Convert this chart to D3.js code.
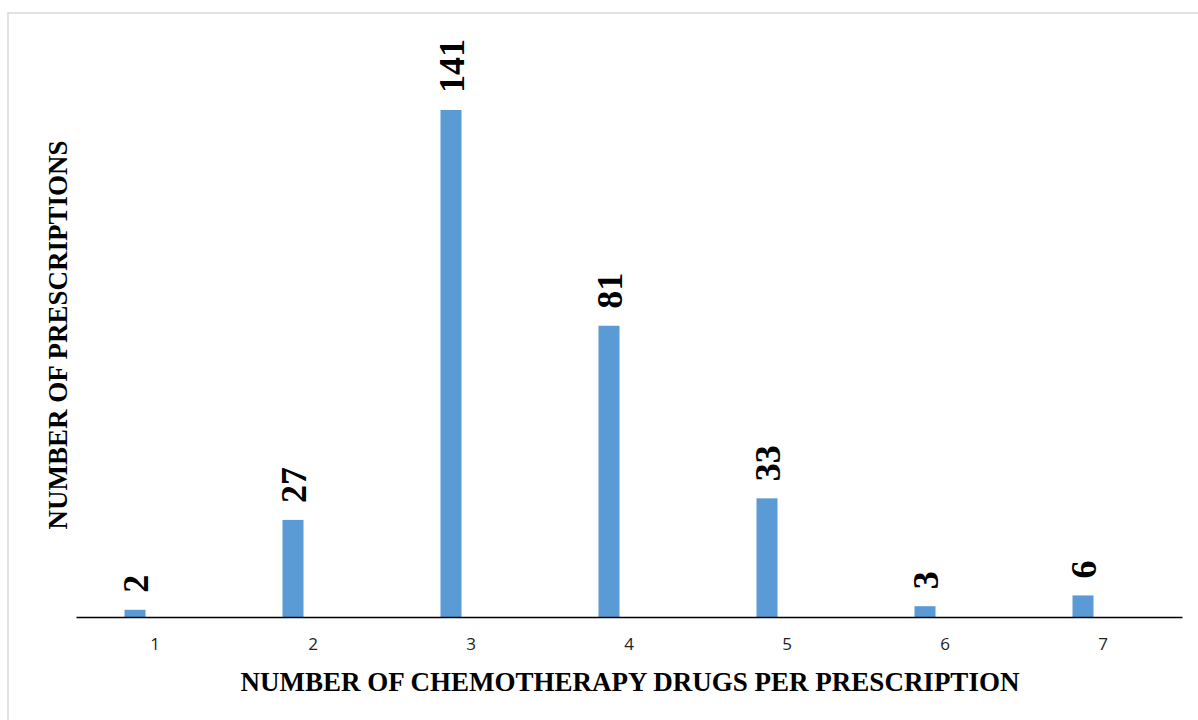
<!DOCTYPE html>
<html>
<head>
<meta charset="utf-8">
<script src="https://cdn.jsdelivr.net/npm/d3@7"></script>
<style>
  body { margin: 0; background: #fff; }
</style>
</head>
<body>
<div id="chart"></div>
<script>
const categories = ["1", "2", "3", "4", "5", "6", "7"];
const prescriptions = [2, 27, 141, 81, 33, 3, 6];
const xTitle = "NUMBER OF CHEMOTHERAPY DRUGS PER PRESCRIPTION";
const yTitle = "NUMBER OF PRESCRIPTIONS";

const width = 1198, height = 720;
const plot = { left: 76, right: 1182, top: 110, bottom: 617 };

const svg = d3.select("#chart")
    .append("svg")
    .attr("width", width)
    .attr("height", height);

// chart frame
svg.append("rect")
    .attr("x", 8).attr("y", 13)
    .attr("width", 1200).attr("height", 720)
    .attr("fill", "none")
    .attr("stroke", "#d9d9d9")
    .attr("stroke-width", 1.5);

const data = categories.map((c, i) => ({ cat: c, value: prescriptions[i] }));

const x = d3.scaleBand()
    .domain(categories)
    .range([plot.left, plot.right]);

const y = d3.scaleLinear()
    .domain([0, 141])
    .range([plot.bottom, plot.top]);

const barW = 21;
const barShift = -20; // bars sit left of the category centre

svg.selectAll(".bar")
    .data(data)
    .enter()
    .append("rect")
    .attr("class", "bar")
    .attr("x", d => x(d.cat) + x.bandwidth() / 2 + barShift - barW / 2)
    .attr("y", d => y(d.value))
    .attr("width", barW)
    .attr("height", d => y(0) - y(d.value))
    .attr("fill", "#5b9bd5");

// value labels, rotated
svg.selectAll(".lbl")
    .data(data)
    .enter()
    .append("text")
    .attr("class", "lbl")
    .attr("transform", d => {
        const cx = x(d.cat) + x.bandwidth() / 2 + barShift + 13;
        const cy = y(d.value) - 17;
        return `translate(${cx},${cy}) rotate(-90)`;
    })
    .attr("font-family", "'Liberation Serif', 'Times New Roman', serif")
    .attr("font-weight", "bold")
    .attr("font-size", 36)
    .attr("fill", "#000")
    .text(d => d.value);

// x axis
const xAxis = svg.append("g")
    .attr("transform", `translate(0,${plot.bottom})`)
    .call(d3.axisBottom(x).tickSize(0).tickPadding(21));
xAxis.select(".domain").attr("stroke", "#000").attr("stroke-width", 1.5);
xAxis.selectAll("text")
    .attr("font-family", "'Open Sans', 'Liberation Sans', sans-serif")
    .attr("font-size", 17)
    .attr("fill", "#222");

// axis titles
svg.append("text")
    .attr("x", (plot.left + plot.right) / 2 + 1)
    .attr("y", 691)
    .attr("text-anchor", "middle")
    .attr("font-family", "'Liberation Serif', 'Times New Roman', serif")
    .attr("font-weight", "bold")
    .attr("font-size", 27)
    .text(xTitle);

svg.append("text")
    .attr("transform", "translate(67,335) rotate(-90)")
    .attr("text-anchor", "middle")
    .attr("font-family", "'Liberation Serif', 'Times New Roman', serif")
    .attr("font-weight", "bold")
    .attr("font-size", 27)
    .text(yTitle);
</script>
</body>
</html>
